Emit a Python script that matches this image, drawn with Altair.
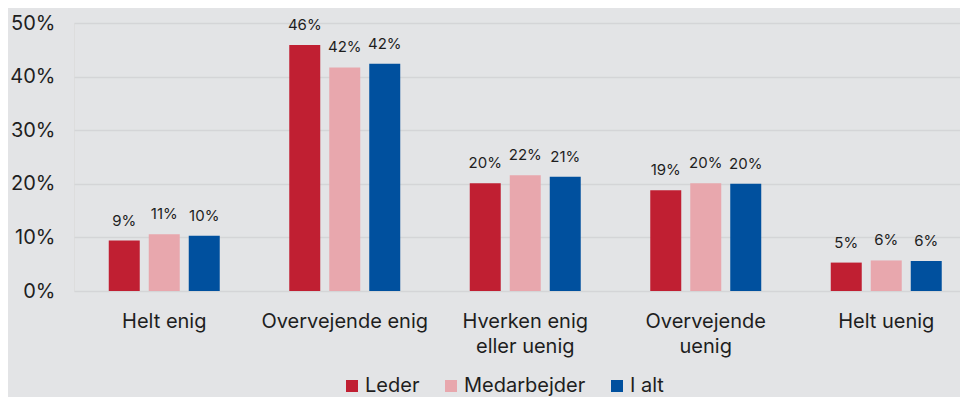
import altair as alt
import pandas as pd

categories = ["Helt enig", "Overvejende enig", "Hverken enig eller uenig", "Overvejende uenig", "Helt uenig"]
series = ["Leder", "Medarbejder", "I alt"]
leder = [9.4, 45.9, 20.1, 18.8, 5.3]
medarbejder = [10.6, 41.7, 21.6, 20.1, 5.7]
i_alt = [10.3, 42.4, 21.3, 20.0, 5.6]
colors = ["#C01F32", "#E8A7AD", "#00509E"]
y_ticks = [0, 10, 20, 30, 40, 50]

rows = []
for i, c in enumerate(categories):
    for s, vals in zip(series, [leder, medarbejder, i_alt]):
        rows.append({"kategori": c, "gruppe": s, "andel": vals[i]})
df = pd.DataFrame(rows)

text_color = "#1E1E1E"
label_expr = ("datum.value == 'Hverken enig eller uenig' ? ['Hverken enig', 'eller uenig'] : "
              "datum.value == 'Overvejende uenig' ? ['Overvejende', 'uenig'] : datum.label")

x = alt.X("kategori:N", sort=categories,
          scale=alt.Scale(range=[0, 902.5], paddingInner=0, paddingOuter=0),
          axis=alt.Axis(title=None, ticks=False, domain=False, labelAngle=0, labelFontSize=20,
                        labelPadding=20, labelLineHeight=25, labelExpr=label_expr,
                        labelColor=text_color, labelBaseline="top"))
xoff = alt.XOffset("gruppe:N", sort=series,
                   scale=alt.Scale(paddingInner=0.225, paddingOuter=0.869))
y = alt.Y("andel:Q", scale=alt.Scale(domain=[0, 50]),
          axis=alt.Axis(values=y_ticks, labelExpr="datum.value + '%'", title=None, ticks=False,
                        domain=False, labelFontSize=20, labelPadding=19, labelColor=text_color,
                        gridColor="#D4D5D7", gridWidth=1.5))
color = alt.Color("gruppe:N", sort=series,
                  scale=alt.Scale(domain=series, range=colors),
                  legend=alt.Legend(title=None, orient="none", legendX=268, legendY=353,
                                    direction="horizontal", symbolType="square", symbolSize=144,
                                    symbolStrokeWidth=0, labelFontSize=20, labelColor=text_color,
                                    columnPadding=21, labelOffset=3, padding=0))

bars = alt.Chart(df).mark_bar().encode(x=x, xOffset=xoff, y=y, color=color)
labels = alt.Chart(df).transform_calculate(
    txt="format(datum.andel, '.0f') + '%'"
).mark_text(dy=-15, baseline="alphabetic", fontSize=15, color=text_color).encode(
    x=x, xOffset=xoff, y=y, text="txt:N")

chart = alt.layer(bars, labels).properties(
    width=886, height=268,
    autosize=alt.AutoSizeParams(type="none"),
    padding={"left": 66, "top": 15, "right": 0, "bottom": 106},
    background="#E3E4E6",
).configure_view(stroke=None).configure(font="Inter")

chart.save("out.html", embed_options={"renderer": "svg", "actions": False})
